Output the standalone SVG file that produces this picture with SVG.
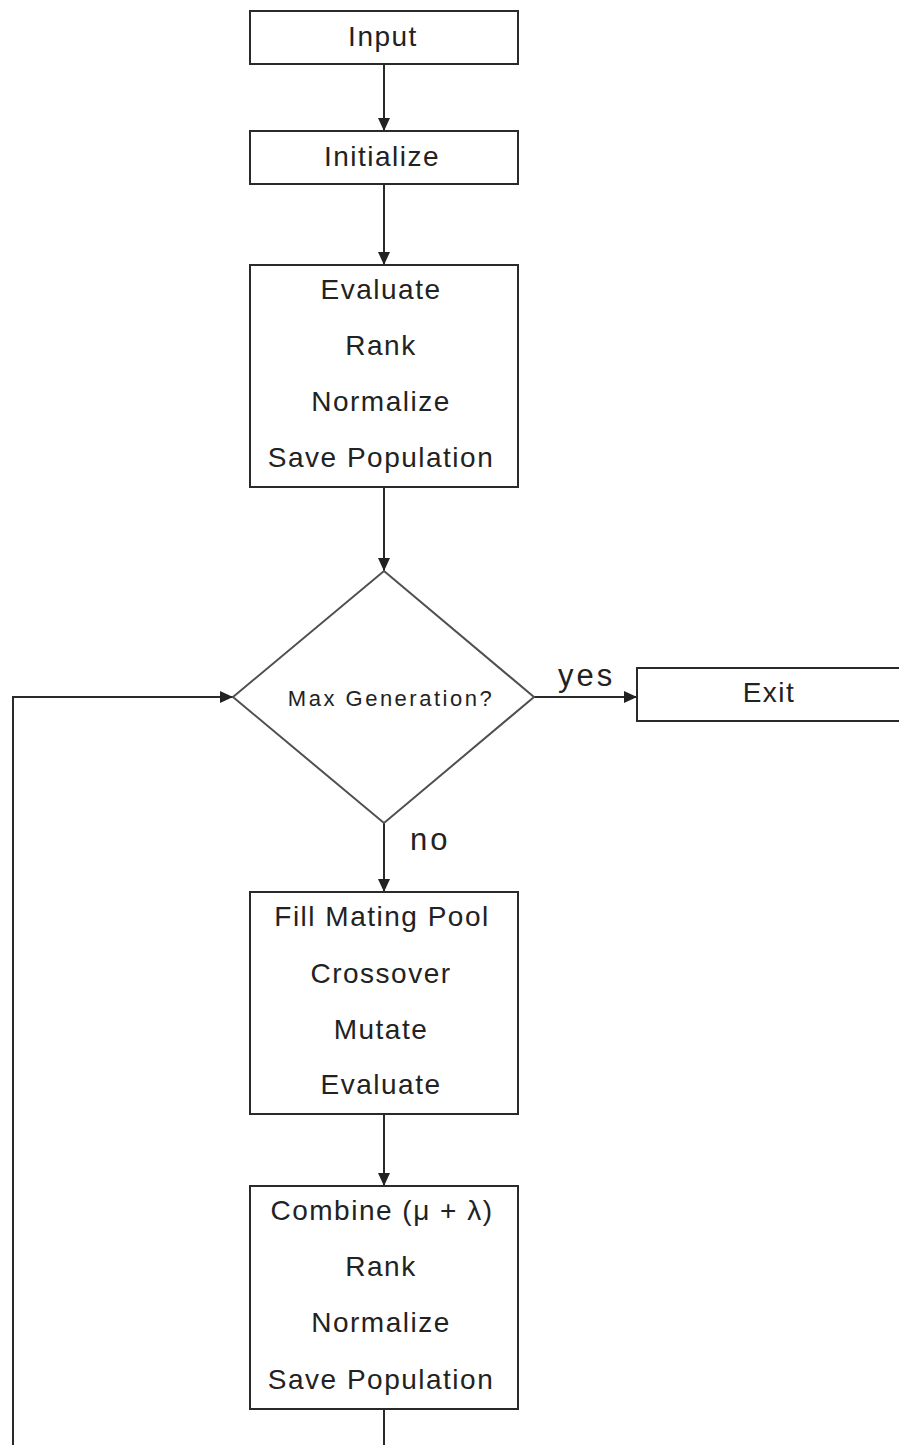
<svg xmlns="http://www.w3.org/2000/svg" width="899" height="1445" viewBox="0 0 899 1445">
<style>
.box{fill:#fff;stroke:#2a2a2a;stroke-width:2}
.dia{fill:#fff;stroke:#505050;stroke-width:2}
.t{font-family:"Liberation Sans",Arial,sans-serif;font-size:28px;fill:#222;text-anchor:middle;letter-spacing:1.5px}
.s{font-family:"Liberation Sans",Arial,sans-serif;font-size:22px;fill:#222;text-anchor:middle;letter-spacing:2.5px}
.l{font-family:"Liberation Sans",Arial,sans-serif;font-size:31px;fill:#222;letter-spacing:3px}
.c{fill:none;stroke:#2a2a2a;stroke-width:2}
</style>
<defs>
<marker id="ah" viewBox="0 0 13 12" refX="13" refY="6" markerWidth="13" markerHeight="12" markerUnits="userSpaceOnUse" orient="auto">
<path d="M0,0 L13,6 L0,12 Z" fill="#222"/>
</marker>
</defs>
<rect width="899" height="1445" fill="#fff"/>
<g id="connectors">
<line class="c" x1="384" y1="64" x2="384" y2="131" marker-end="url(#ah)"/>
<line class="c" x1="384" y1="184" x2="384" y2="265" marker-end="url(#ah)"/>
<line class="c" x1="384" y1="487" x2="384" y2="571" marker-end="url(#ah)"/>
<line class="c" x1="534" y1="697" x2="637" y2="697" marker-end="url(#ah)"/>
<line class="c" x1="384" y1="823" x2="384" y2="892" marker-end="url(#ah)"/>
<line class="c" x1="384" y1="1114" x2="384" y2="1186" marker-end="url(#ah)"/>
<line class="c" x1="384" y1="1409" x2="384" y2="1445"/>
<polyline class="c" points="13,1445 13,697 233,697" marker-end="url(#ah)"/>
<text class="l" x="558" y="686">yes</text>
<text class="l" x="410" y="850">no</text>
</g>
<g id="input">
<rect class="box" x="250" y="11" width="268" height="53"/>
<text class="t" x="383" y="46">Input</text>
</g>
<g id="initialize">
<rect class="box" x="250" y="131" width="268" height="53"/>
<text class="t" x="382" y="166">Initialize</text>
</g>
<g id="evaluate">
<rect class="box" x="250" y="265" width="268" height="222"/>
<text class="t" x="381" y="299">Evaluate</text>
<text class="t" x="381" y="355">Rank</text>
<text class="t" x="381" y="411">Normalize</text>
<text class="t" x="381" y="467">Save Population</text>
</g>
<g id="decision">
<polygon class="dia" points="384,571 534,697 384,823 233,697"/>
<text class="s" x="391" y="706">Max Generation?</text>
</g>
<g id="exit">
<rect class="box" x="637" y="668" width="270" height="53"/>
<text class="t" x="769" y="702">Exit</text>
</g>
<g id="mating">
<rect class="box" x="250" y="892" width="268" height="222"/>
<text class="t" x="382" y="926">Fill Mating Pool</text>
<text class="t" x="381" y="983">Crossover</text>
<text class="t" x="381" y="1039">Mutate</text>
<text class="t" x="381" y="1094">Evaluate</text>
</g>
<g id="combine">
<rect class="box" x="250" y="1186" width="268" height="223"/>
<text class="t" x="382" y="1220">Combine (μ + λ)</text>
<text class="t" x="381" y="1276">Rank</text>
<text class="t" x="381" y="1332">Normalize</text>
<text class="t" x="381" y="1389">Save Population</text>
</g>
</svg>
